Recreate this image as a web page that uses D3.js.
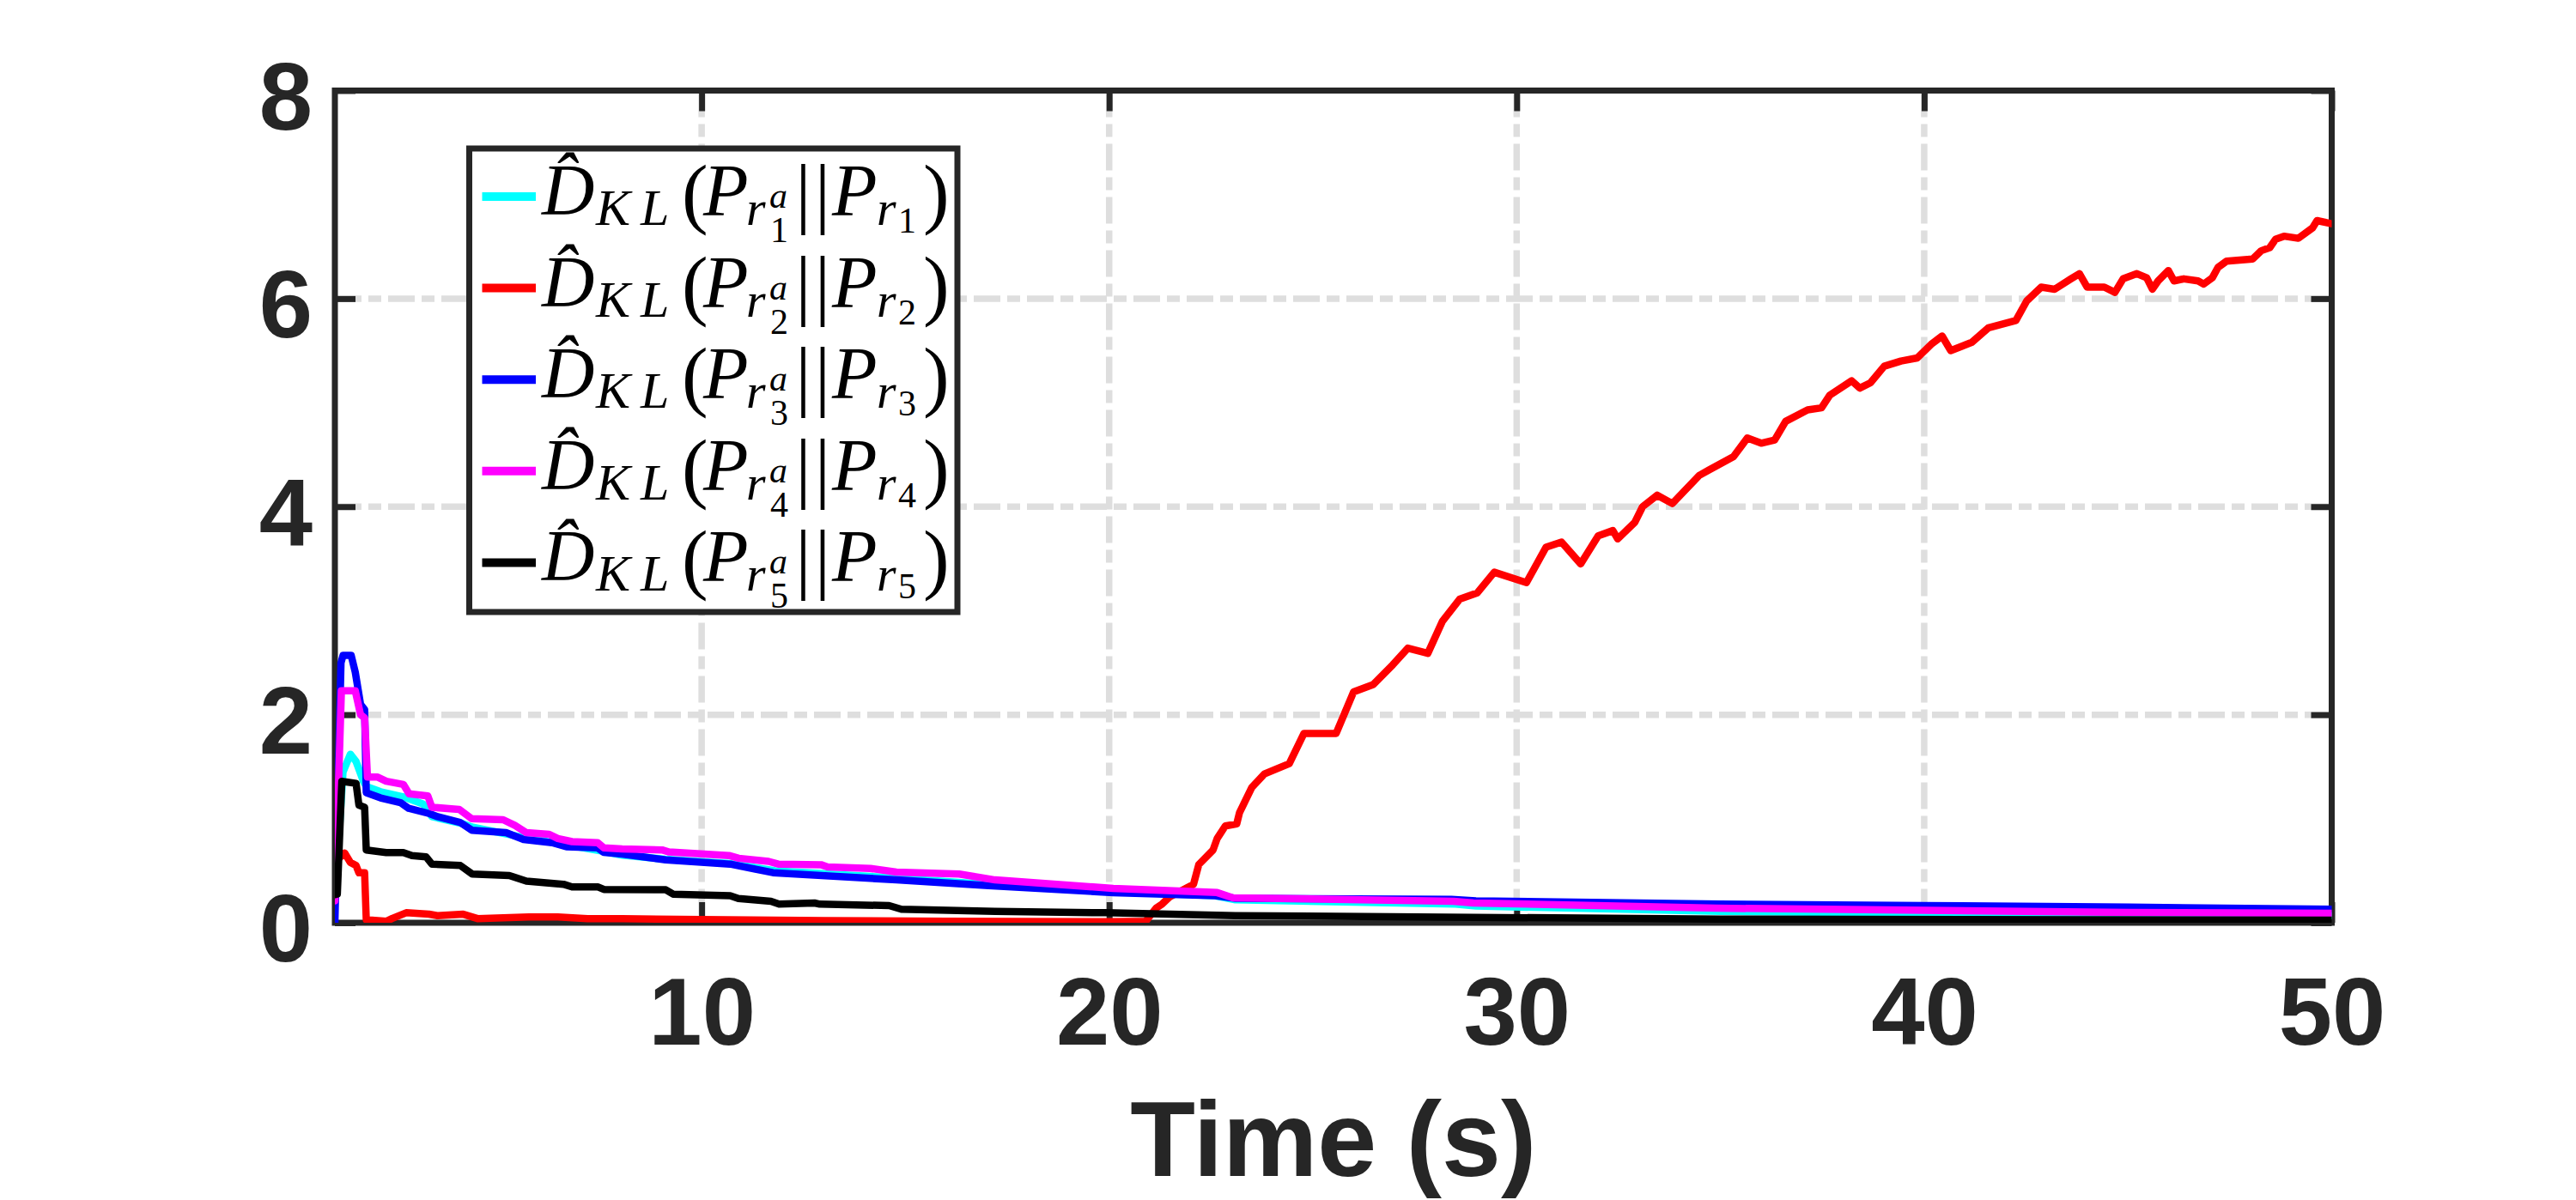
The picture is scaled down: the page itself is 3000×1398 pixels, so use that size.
<!DOCTYPE html>
<html>
<head>
<meta charset="utf-8">
<script src="https://cdn.jsdelivr.net/npm/d3@7"></script>
<style>
  body { margin: 0; background: #fff; }
  svg { display: block; }
</style>
</head>
<body>
<div id="chart"></div>
<script>
// axis ticks / limits
const xTicks = [10, 20, 30, 40, 50];
const yTicks = [0, 2, 4, 6, 8];
const xDomain = [1, 50];
const yDomain = [0, 8];

// subscript index of each legend entry
const seriesIndex = ["1", "2", "3", "4", "5"];

// estimated KL divergence, [time (s), value]
const klR1 = [[1.0,0.20],[1.2,1.45],[1.38,1.62],[1.52,1.55],[1.7,1.36],[1.77,1.31],[2.12,1.26],[2.68,1.21],
  [3.17,1.14],[3.38,1.02],[4.16,0.95],[4.36,0.92],[5.63,0.82],[7.53,0.69],[8.05,0.65],[9.1,0.61],[10.7,0.57],
  [11.8,0.50],[14.8,0.43],[17.0,0.37],[20.1,0.30],[22.6,0.26],[23.1,0.22],[28.5,0.18],[29.0,0.16],[35.0,0.11],
  [40.0,0.09],[50.0,0.07]];

const klR2 = [[1.0,0.55],[1.1,0.62],[1.24,0.67],[1.38,0.58],[1.52,0.55],[1.59,0.48],[1.73,0.48],[1.77,0.03],
  [2.26,0.014],[2.4,0.04],[2.75,0.096],[3.31,0.082],[3.52,0.068],[4.15,0.082],[4.5,0.04],[5.76,0.055],[6.47,0.055],
  [7.2,0.04],[8.05,0.04],[10,0.03],[13,0.02],[16,0.015],[20,0.01],[20.9,0.015],[21.15,0.14],[21.3,0.18],[21.49,0.25],
  [22.07,0.37],[22.2,0.56],[22.55,0.70],[22.65,0.81],[22.85,0.93],[23.13,0.95],[23.2,1.06],[23.5,1.30],[23.81,1.43],
  [24.42,1.53],[24.78,1.82],[25.57,1.82],[26.0,2.22],[26.48,2.29],[26.96,2.48],[27.33,2.64],[27.82,2.59],[28.18,2.90],
  [28.6,3.11],[29.03,3.17],[29.45,3.37],[30.24,3.27],[30.72,3.61],[31.1,3.66],[31.57,3.45],[32.0,3.72],[32.36,3.77],
  [32.48,3.69],[32.9,3.85],[33.09,4.0],[33.45,4.11],[33.82,4.03],[34.48,4.30],[34.71,4.35],[35.32,4.48],[35.66,4.66],
  [36.0,4.61],[36.33,4.64],[36.6,4.82],[37.14,4.93],[37.48,4.95],[37.68,5.07],[38.22,5.21],[38.42,5.14],[38.68,5.19],
  [39.02,5.35],[39.43,5.40],[39.83,5.43],[40.17,5.56],[40.44,5.64],[40.65,5.50],[41.17,5.58],[41.58,5.72],[42.25,5.79],
  [42.52,5.98],[42.87,6.11],[43.2,6.09],[43.6,6.19],[43.81,6.24],[44.0,6.11],[44.42,6.11],[44.68,6.06],[44.88,6.19],
  [45.22,6.24],[45.46,6.20],[45.6,6.09],[45.74,6.17],[45.99,6.27],[46.13,6.17],[46.37,6.19],[46.72,6.17],[46.86,6.14],
  [47.07,6.20],[47.21,6.30],[47.42,6.36],[48.06,6.38],[48.27,6.46],[48.48,6.49],[48.62,6.57],[48.83,6.60],[49.18,6.58],
  [49.53,6.68],[49.64,6.75],[50.0,6.72]];

const klR3 = [[1.0,0.0],[1.15,2.5],[1.2,2.57],[1.4,2.57],[1.5,2.41],[1.63,2.10],[1.73,2.05],[1.77,1.25],[2.12,1.20],
  [2.61,1.155],[2.81,1.10],[3.31,1.05],[3.52,1.02],[4.07,0.965],[4.36,0.89],[5.2,0.866],[5.63,0.80],[6.33,0.77],
  [6.68,0.73],[7.45,0.72],[7.6,0.676],[8.05,0.66],[9.12,0.605],[10.7,0.564],[11.75,0.481],[14.78,0.412],[17.04,0.357],
  [20.1,0.289],[22.6,0.26],[23.1,0.235],[28.4,0.225],[29.0,0.21],[35.0,0.18],[40.0,0.165],[45.0,0.15],[50.0,0.13]];

const klR4 = [[1.0,0.21],[1.16,2.23],[1.5,2.23],[1.63,2.0],[1.73,1.97],[1.8,1.40],[2.05,1.40],[2.26,1.36],[2.68,1.33],
  [2.82,1.24],[3.28,1.22],[3.38,1.11],[4.05,1.09],[4.36,1.00],[5.13,0.99],[5.42,0.935],[5.7,0.866],[6.26,0.85],
  [6.47,0.81],[6.82,0.78],[7.45,0.77],[7.6,0.72],[8.05,0.71],[9.03,0.70],[9.2,0.68],[10.67,0.646],[10.91,0.62],
  [11.64,0.59],[11.88,0.564],[12.93,0.558],[13.09,0.536],[14.14,0.522],[14.78,0.487],[16.32,0.468],[17.2,0.412],
  [20.1,0.33],[22.65,0.29],[23.04,0.24],[28.45,0.206],[28.94,0.19],[34.9,0.14],[40.0,0.12],[45.0,0.10],[50.0,0.09]];

const klR5 = [[1.0,0.27],[1.06,0.275],[1.17,1.36],[1.52,1.34],[1.59,1.13],[1.73,1.11],[1.77,0.70],[2.26,0.674],
  [2.68,0.674],[2.89,0.646],[3.24,0.633],[3.38,0.564],[4.08,0.55],[4.37,0.468],[5.28,0.454],[5.7,0.40],[6.61,0.37],
  [6.82,0.344],[7.46,0.344],[7.6,0.32],[9.12,0.317],[9.3,0.275],[10.7,0.26],[10.9,0.233],[11.7,0.206],[11.9,0.18],
  [12.77,0.19],[12.9,0.179],[14.6,0.165],[14.9,0.13],[17.2,0.11],[19.9,0.096],[23.1,0.069],[35.0,0.035],[50.0,0.025]];

const series = [klR1, klR2, klR3, klR4, klR5];
const colors = ["#00ffff", "#ff0000", "#0000ff", "#ff00ff", "#000000"];

const width = 3000, height = 1398;
const margin = {top: 105.5, right: 284.5, bottom: 323, left: 390};
const axisColor = "#262626";

const svg = d3.select("#chart").append("svg")
    .attr("width", width)
    .attr("height", height);

svg.append("rect").attr("width", width).attr("height", height).attr("fill", "#fff");

const x = d3.scaleLinear().domain(xDomain).range([margin.left, width - margin.right]);
const y = d3.scaleLinear().domain(yDomain).range([height - margin.bottom, margin.top]);

// grid (dash-dot, light grey)
const grid = svg.append("g")
    .attr("stroke", "#dedede")
    .attr("stroke-width", 7.5)
    .attr("stroke-dasharray", "31,8,15,8");
grid.selectAll(".gx")
  .data(xTicks.filter(d => d < xDomain[1]))
  .join("line")
    .attr("x1", d => x(d)).attr("x2", d => x(d))
    .attr("y1", y(yDomain[1])).attr("y2", y(yDomain[0]));
grid.selectAll(".gy")
  .data(yTicks.filter(d => d > yDomain[0] && d < yDomain[1]))
  .join("line")
    .attr("y1", d => y(d)).attr("y2", d => y(d))
    .attr("x1", x(xDomain[0])).attr("x2", x(xDomain[1]));

// axes with inward ticks on all four sides
const tickLen = 24;
const styleAxis = g => {
  g.select(".domain").remove();
  g.selectAll(".tick line").attr("stroke", axisColor).attr("stroke-width", 7);
  g.selectAll(".tick text")
    .attr("fill", axisColor)
    .attr("font-family", "'Liberation Sans', Arial, Helvetica, sans-serif")
    .attr("font-weight", "bold")
    .attr("font-size", 112);
};

svg.append("g")
    .attr("transform", `translate(0,${y(0)})`)
    .call(d3.axisBottom(x).tickValues(xTicks).tickSizeInner(-tickLen).tickSizeOuter(0).tickPadding(62))
    .call(styleAxis);
svg.append("g")
    .attr("transform", `translate(0,${y(8)})`)
    .call(d3.axisTop(x).tickValues(xTicks).tickSizeInner(-tickLen).tickSizeOuter(0).tickFormat(""))
    .call(styleAxis);
svg.append("g")
    .attr("transform", `translate(${x(xDomain[0])},0)`)
    .call(d3.axisLeft(y).tickValues(yTicks).tickSizeInner(-tickLen).tickSizeOuter(0).tickPadding(26))
    .call(styleAxis)
    .call(g => g.selectAll(".tick text").attr("dy", "0.4em"));
svg.append("g")
    .attr("transform", `translate(${x(xDomain[1])},0)`)
    .call(d3.axisRight(y).tickValues(yTicks).tickSizeInner(-tickLen).tickSizeOuter(0).tickFormat(""))
    .call(styleAxis);

svg.append("rect")
    .attr("x", x(xDomain[0])).attr("y", y(yDomain[1]))
    .attr("width", x(xDomain[1]) - x(xDomain[0]))
    .attr("height", y(yDomain[0]) - y(yDomain[1]))
    .attr("fill", "none")
    .attr("stroke", axisColor)
    .attr("stroke-width", 7);

svg.append("text")
    .attr("x", (x(xDomain[0]) + x(xDomain[1])) / 2)
    .attr("y", 1370)
    .attr("text-anchor", "middle")
    .attr("fill", axisColor)
    .attr("font-family", "'Liberation Sans', Arial, Helvetica, sans-serif")
    .attr("font-weight", "bold")
    .attr("font-size", 124)
    .text("Time (s)");

// data lines
svg.append("clipPath").attr("id", "plot-clip")
  .append("rect")
    .attr("x", x(xDomain[0])).attr("y", y(yDomain[1]))
    .attr("width", x(xDomain[1]) - x(xDomain[0]))
    .attr("height", y(yDomain[0]) - y(yDomain[1]));

const line = d3.line().x(d => x(d[0])).y(d => y(d[1]));

svg.append("g")
    .attr("clip-path", "url(#plot-clip)")
  .selectAll("path")
  .data(series)
  .join("path")
    .attr("d", line)
    .attr("fill", "none")
    .attr("stroke", (d, i) => colors[i])
    .attr("stroke-width", 8.5)
    .attr("stroke-linejoin", "round")
    .attr("stroke-linecap", "round");

// legend box with the LaTeX-like labels
const legend = svg.append("g");
legend.append("rect")
    .attr("x", 546.5).attr("y", 173)
    .attr("width", 568.5).attr("height", 540)
    .attr("fill", "#fff")
    .attr("stroke", axisColor)
    .attr("stroke-width", 7);

const mathFont = "'Liberation Serif', 'Times New Roman', serif";

seriesIndex.forEach((k, i) => {
  const cy = 229 + i * 106.6;
  const b = cy + 21;
  const x0 = 632;

  legend.append("line")
      .attr("x1", 561.5).attr("x2", 624)
      .attr("y1", cy).attr("y2", cy)
      .attr("stroke", colors[i])
      .attr("stroke-width", 10);

  // [text, dx, dy, size, italic, anchor]
  const parts = [
    ["D\u0302", -1, 0, 85, true],
    ["K", 62, 12, 60, true],
    ["L", 114, 12, 60, true],
    ["(", 162, 5, 92, false],
    ["P", 187, 1, 86, true],
    ["r", 237, 12, 58, true],
    ["a", 264, -8, 42, true],
    [k, 265, 32, 42, false],
    ["|", 303.5, 5, 92, false, "middle"],
    ["|", 326, 5, 92, false, "middle"],
    ["P", 337, 1, 86, true],
    ["r", 389, 12, 58, true],
    [k, 414, 21, 42, false],
    [")", 443, 5, 92, false]
  ];

  legend.append("text")
      .attr("font-family", mathFont)
      .attr("fill", "#000")
    .selectAll("tspan")
    .data(parts)
    .join("tspan")
      .attr("x", d => x0 + d[1])
      .attr("y", d => b + d[2])
      .attr("font-size", d => d[3])
      .attr("font-style", d => d[4] ? "italic" : "normal")
      .attr("text-anchor", d => d[5] || "start")
      .text(d => d[0]);
});
</script>
</body>
</html>
